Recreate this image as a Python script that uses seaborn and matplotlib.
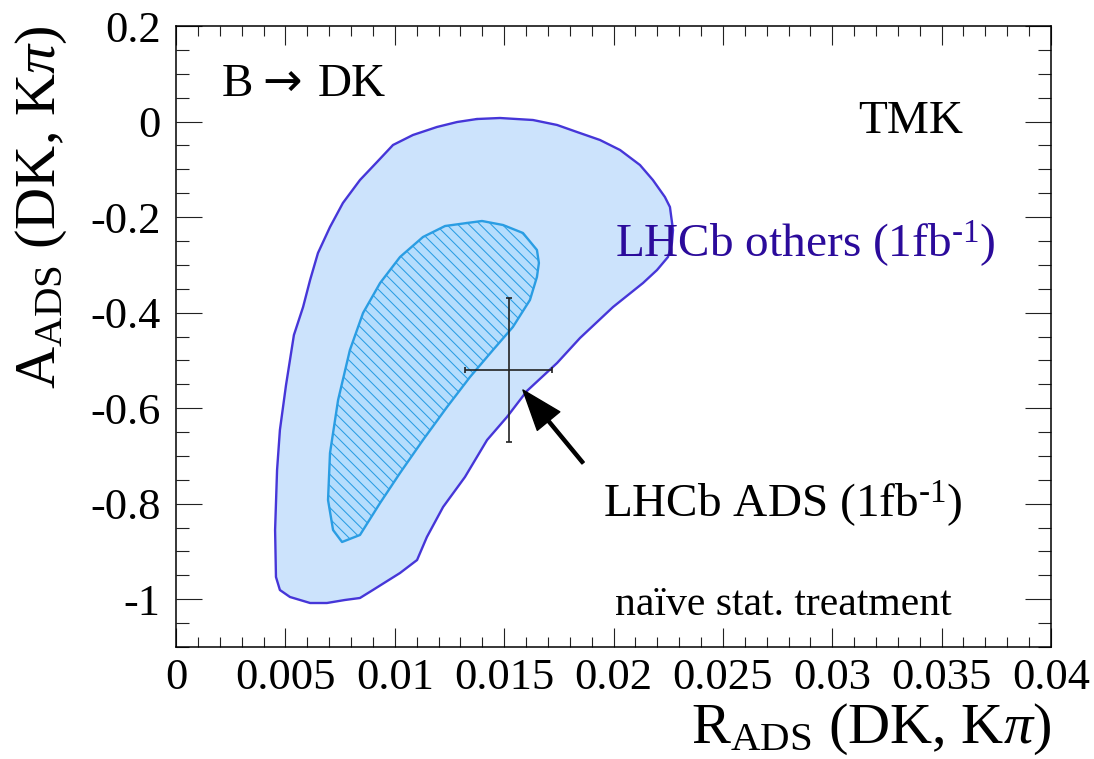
import numpy as np
import pandas as pd
import matplotlib
matplotlib.use("Agg")
import matplotlib.pyplot as plt
import seaborn as sns
from matplotlib.ticker import FixedLocator, FixedFormatter, MultipleLocator

# Outer contour: combination of the other LHCb B -> DK measurements
outer_r = [0.01376, 0.01481, 0.01632, 0.01742, 0.01833, 0.01938, 0.02030, 0.02121,
           0.02180, 0.02235, 0.02258, 0.02272, 0.02267, 0.02249, 0.02199, 0.02135,
           0.01998, 0.01847, 0.01742, 0.01604, 0.01513, 0.01422, 0.01321, 0.01221,
           0.01147, 0.01102, 0.01024, 0.00900, 0.00841, 0.00772, 0.00690, 0.00613,
           0.00521, 0.00475, 0.00457, 0.00453, 0.00462, 0.00475, 0.00503, 0.00539,
           0.00581, 0.00613, 0.00649, 0.00704, 0.00763, 0.00841, 0.00919, 0.00992,
           0.01083, 0.01193, 0.01285]
outer_a = [0.0053, 0.0074, 0.0032, -0.0072, -0.0219, -0.0386, -0.0596, -0.0910,
           -0.1224, -0.1580, -0.1789, -0.2271, -0.2543, -0.2836, -0.3108, -0.3380,
           -0.3882, -0.4531, -0.5055, -0.5641, -0.6185, -0.6667, -0.7441, -0.8069,
           -0.8697, -0.9179, -0.9451, -0.9807, -0.9974, -1.0016, -1.0079, -1.0079,
           -0.9953, -0.9807, -0.9535, -0.8551, -0.7295, -0.6457, -0.5515, -0.4469,
           -0.3882, -0.3317, -0.2752, -0.2208, -0.1705, -0.1224, -0.0847, -0.0491,
           -0.0282, -0.0114, -0.0010]

# Inner (hatched) contour
inner_r = [0.01330, 0.01399, 0.01495, 0.01586, 0.01650, 0.01659, 0.01650, 0.01618,
           0.01540, 0.01449, 0.01344, 0.01239, 0.01129, 0.01024, 0.00933, 0.00841,
           0.00759, 0.00718, 0.00695, 0.00704, 0.00741, 0.00795, 0.00855, 0.00933,
           0.01024, 0.01129, 0.01230]
inner_a = [-0.2124, -0.2082, -0.2166, -0.2333, -0.2689, -0.2961, -0.3254, -0.3736,
           -0.4301, -0.4783, -0.5348, -0.5976, -0.6667, -0.7358, -0.7985, -0.8655,
           -0.8802, -0.8551, -0.7923, -0.6939, -0.5829, -0.4783, -0.4008, -0.3380,
           -0.2836, -0.2417, -0.2187]

# LHCb ADS measurement (1 fb^-1)
ads_r, ads_r_err = 0.0152, 0.0020
ads_a, ads_a_err = -0.52, 0.15

x_ticks = [0.0, 0.005, 0.01, 0.015, 0.02, 0.025, 0.03, 0.035, 0.04]
x_tick_labels = ["0", "0.005", "0.01", "0.015", "0.02", "0.025", "0.03", "0.035", "0.04"]
y_ticks = [-1.0, -0.8, -0.6, -0.4, -0.2, 0.0, 0.2]
y_tick_labels = ["-1", "-0.8", "-0.6", "-0.4", "-0.2", "0", "0.2"]

sns.set_theme(style="ticks")
plt.rcParams.update({
    "font.family": ["Liberation Serif", "DejaVu Serif"],
    "mathtext.fontset": "custom",
    "mathtext.rm": "Liberation Serif",
    "mathtext.it": "Liberation Serif:italic",
    "mathtext.bf": "Liberation Serif:bold",
    "axes.unicode_minus": False,
    "hatch.linewidth": 0.75,
    "text.color": "black",
    "axes.labelcolor": "black",
    "axes.edgecolor": "black",
})

W, H = 1094, 759
fig = plt.figure(figsize=(W / 100, H / 100), dpi=100)
fig.patch.set_facecolor("white")
ax = fig.add_axes([176 / W, 112 / H, 875 / W, 621 / H])
ax.set_facecolor("white")

outer = pd.DataFrame({"r": outer_r + outer_r[:1], "a": outer_a + outer_a[:1]})
inner = pd.DataFrame({"r": inner_r + inner_r[:1], "a": inner_a + inner_a[:1]})

# filled regions
ax.fill(outer["r"], outer["a"], facecolor="#cce3fc", edgecolor="none", lw=0, zorder=1)
ax.fill(inner["r"], inner["a"], facecolor="#b5ddfd", edgecolor="#2a9de3",
        hatch="\\\\\\", lw=0, zorder=2)

# contour outlines
sns.lineplot(data=outer, x="r", y="a", sort=False, estimator=None,
             color="#4636d8", lw=1.7, ax=ax, zorder=3)
sns.lineplot(data=inner, x="r", y="a", sort=False, estimator=None,
             color="#2a9de3", lw=1.7, ax=ax, zorder=3)

# measurement cross
ax.errorbar(ads_r, ads_a, xerr=ads_r_err, yerr=ads_a_err, fmt="none",
            ecolor="#222222", elinewidth=1.2, capsize=2.5, capthick=1.2, zorder=5)

# arrow pointing at the measurement
ax.annotate("", xy=(0.01586, -0.5620), xytext=(0.01861, -0.7148),
            arrowprops=dict(facecolor="black", edgecolor="black", width=2.2,
                            headwidth=21, headlength=29, shrink=0.0),
            zorder=6)

ax.set_xlim(0.0, 0.04)
ax.set_ylim(-1.1, 0.2)

ax.xaxis.set_major_locator(FixedLocator(x_ticks))
ax.xaxis.set_major_formatter(FixedFormatter(x_tick_labels))
ax.xaxis.set_minor_locator(MultipleLocator(0.001))
ax.yaxis.set_major_locator(FixedLocator(y_ticks))
ax.yaxis.set_major_formatter(FixedFormatter(y_tick_labels))
ax.yaxis.set_minor_locator(MultipleLocator(0.05))

for s in ax.spines.values():
    s.set_visible(True)
    s.set_linewidth(1.1)
    s.set_color("black")

ax.tick_params(which="both", direction="in", top=True, right=True,
               colors="#222222", labelcolor="black", labelsize=32)
ax.tick_params(axis="x", which="major", length=13.5, width=0.8, pad=8)
ax.tick_params(axis="x", which="minor", length=7.5, width=0.8)
ax.tick_params(axis="y", which="major", length=18.5, width=0.8, pad=11)
ax.tick_params(axis="y", which="minor", length=9.5, width=0.8)

ax.set_xlabel(r"R$_{\mathrm{ADS}}$ (DK, K$\pi$)", fontsize=42, ha="right", color="black")
ax.xaxis.set_label_coords(1.0, -0.088)
ax.set_ylabel(r"A$_{\mathrm{ADS}}$ (DK, K$\pi$)", fontsize=42, ha="right", color="black")
ax.yaxis.set_label_coords(-0.122, 1.0)

# decay label: B -> DK
ax.text(0.00210, 0.0535, "B", fontsize=34, va="baseline", ha="left")
ax.text(0.00395, 0.0535, "→", fontsize=34, va="baseline", ha="left",
        family=["DejaVu Sans"])
ax.text(0.00649, 0.0535, "DK", fontsize=34, va="baseline", ha="left")

ax.text(0.03118, -0.0240, "TMK", fontsize=34, va="baseline", ha="left")
ax.text(0.02007, -0.2836, r"LHCb others (1fb$^{\text{-1}}$)", fontsize=34,
        color="#2b0b9b", va="baseline", ha="left", zorder=7)
ax.text(0.01952, -0.8279, r"LHCb ADS (1fb$^{\text{-1}}$)", fontsize=34,
        va="baseline", ha="left")
ax.text(0.02007, -1.0330, "naïve stat. treatment", fontsize=30,
        va="baseline", ha="left")

fig.savefig("out.png", dpi=100, facecolor="white")
